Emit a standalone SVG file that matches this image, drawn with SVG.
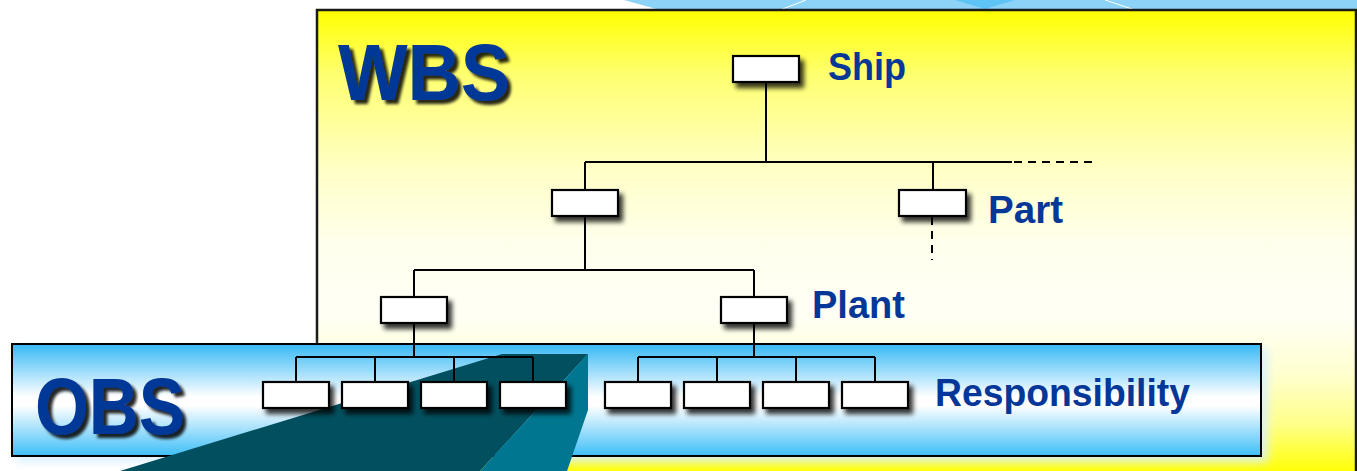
<svg xmlns="http://www.w3.org/2000/svg" width="1357" height="471" viewBox="0 0 1357 471">
  <defs>
    <linearGradient id="yellowGrad" gradientUnits="userSpaceOnUse" x1="0" y1="10" x2="0" y2="471">
      <stop offset="0" stop-color="#FFFF00"/>
      <stop offset="0.14" stop-color="#FFFF70"/>
      <stop offset="0.34" stop-color="#FFFFC4"/>
      <stop offset="0.5" stop-color="#FFFFEC"/>
      <stop offset="0.66" stop-color="#FFFFF6"/>
      <stop offset="0.79" stop-color="#FFFFD0"/>
      <stop offset="0.9" stop-color="#FFFF88"/>
      <stop offset="1" stop-color="#FFFF08"/>
    </linearGradient>
    <linearGradient id="blueGrad" x1="0" y1="0" x2="0" y2="1">
      <stop offset="0" stop-color="#36B8F6"/>
      <stop offset="0.47" stop-color="#FFFFFF"/>
      <stop offset="0.55" stop-color="#FFFFFF"/>
      <stop offset="1" stop-color="#3EBEF8"/>
    </linearGradient>
    <filter id="nodeShadow" x="-30%" y="-40%" width="180%" height="220%">
      <feGaussianBlur in="SourceAlpha" stdDeviation="2.5"/>
      <feOffset dx="4" dy="5" result="b"/>
      <feComponentTransfer><feFuncA type="linear" slope="0.8"/></feComponentTransfer>
      <feMerge><feMergeNode/><feMergeNode in="SourceGraphic"/></feMerge>
    </filter>
    <filter id="textShadow" x="-10%" y="-10%" width="130%" height="140%">
      <feGaussianBlur in="SourceAlpha" stdDeviation="1.5"/>
      <feOffset dx="4" dy="4"/>
      <feComponentTransfer><feFuncA type="linear" slope="0.85"/></feComponentTransfer>
      <feMerge><feMergeNode/><feMergeNode in="SourceGraphic"/></feMerge>
    </filter>
    <filter id="glow" x="-5%" y="-20%" width="110%" height="140%">
      <feGaussianBlur stdDeviation="5"/>
    </filter>
    <style>
      .node { fill: #FFFFFF; stroke: #000000; stroke-width: 2.2; }
      .line { stroke: #000000; stroke-width: 2; fill: none; }
      .dash { stroke: #000000; stroke-width: 2; fill: none; stroke-dasharray: 8 6; }
      .big { font-family: "Liberation Sans", Arial, sans-serif; font-weight: bold; font-size: 80px; fill: #053798; }
      .lbl { font-family: "Liberation Sans", Arial, sans-serif; font-weight: bold; font-size: 38px; fill: #053798; }
    </style>
  </defs>

  <g id="background">
    <polygon points="624,0 1357,0 1357,10 660,10" fill="#8DD3F8"/>
    <polygon points="955,0 1015,0 985,9" fill="#5EC4F6"/>
    <line x1="780" y1="10" x2="806" y2="0" stroke="#FFFFFF" stroke-width="1"/>
    <line x1="1105" y1="0" x2="1135" y2="10" stroke="#FFFFFF" stroke-width="1"/>
  </g>

  <g id="wbs-area">
    <rect x="317" y="10" width="1039" height="480" fill="url(#yellowGrad)" stroke="#1a1a1a" stroke-width="2.5"/>
  </g>

  <g id="obs-area">
    <rect x="16" y="348" width="1252" height="114" fill="#D8F0FF" opacity="0.9" filter="url(#glow)"/>
    <rect x="12" y="344" width="1249" height="112" fill="url(#blueGrad)" stroke="#000000" stroke-width="2"/>
  </g>

  <g id="spotlight">
    <polygon points="502,354 588,354 480,471 120,471" fill="#02505F"/>
    <polygon points="588,354 588,410 567,471 480,471" fill="#007690"/>
  </g>

  <g id="titles">
    <text class="big" x="338" y="100" textLength="172" lengthAdjust="spacingAndGlyphs" filter="url(#textShadow)">WBS</text>
    <text class="big" x="35" y="434" textLength="150" lengthAdjust="spacingAndGlyphs" filter="url(#textShadow)">OBS</text>
  </g>

  <g id="connectors">
    <line class="line" x1="766" y1="82" x2="766" y2="162"/>
    <line class="line" x1="585" y1="162" x2="1012" y2="162"/>
    <line class="dash" x1="1014" y1="162" x2="1092" y2="162"/>
    <line class="line" x1="585" y1="162" x2="585" y2="190"/>
    <line class="line" x1="933" y1="162" x2="933" y2="189"/>
    <line class="dash" x1="932" y1="217" x2="932" y2="260"/>
    <line class="line" x1="585" y1="216" x2="585" y2="270"/>
    <line class="line" x1="414" y1="270" x2="754" y2="270"/>
    <line class="line" x1="414" y1="270" x2="414" y2="297"/>
    <line class="line" x1="754" y1="270" x2="754" y2="297"/>
    <line class="line" x1="414" y1="323" x2="414" y2="357"/>
    <line class="line" x1="754" y1="323" x2="754" y2="357"/>
    <line class="line" x1="296" y1="357" x2="533" y2="357"/>
    <line class="line" x1="296" y1="357" x2="296" y2="382"/>
    <line class="line" x1="375" y1="357" x2="375" y2="382"/>
    <line class="line" x1="454" y1="357" x2="454" y2="382"/>
    <line class="line" x1="533" y1="357" x2="533" y2="382"/>
    <line class="line" x1="638" y1="357" x2="875" y2="357"/>
    <line class="line" x1="638" y1="357" x2="638" y2="382"/>
    <line class="line" x1="717" y1="357" x2="717" y2="382"/>
    <line class="line" x1="796" y1="357" x2="796" y2="382"/>
    <line class="line" x1="875" y1="357" x2="875" y2="382"/>
  </g>

  <g id="node-ship"><rect class="node" x="733" y="56" width="66" height="26" filter="url(#nodeShadow)"/></g>
  <g id="node-l2-left"><rect class="node" x="552" y="190" width="66" height="26" filter="url(#nodeShadow)"/></g>
  <g id="node-part"><rect class="node" x="899" y="190" width="67" height="26" filter="url(#nodeShadow)"/></g>
  <g id="node-l3-left"><rect class="node" x="381" y="297" width="66" height="26" filter="url(#nodeShadow)"/></g>
  <g id="node-plant"><rect class="node" x="721" y="297" width="66" height="26" filter="url(#nodeShadow)"/></g>
  <g id="node-r1"><rect class="node" x="263" y="382" width="66" height="26" filter="url(#nodeShadow)"/></g>
  <g id="node-r2"><rect class="node" x="342" y="382" width="66" height="26" filter="url(#nodeShadow)"/></g>
  <g id="node-r3"><rect class="node" x="421" y="382" width="66" height="26" filter="url(#nodeShadow)"/></g>
  <g id="node-r4"><rect class="node" x="500" y="382" width="66" height="26" filter="url(#nodeShadow)"/></g>
  <g id="node-r5"><rect class="node" x="605" y="382" width="66" height="26" filter="url(#nodeShadow)"/></g>
  <g id="node-r6"><rect class="node" x="684" y="382" width="66" height="26" filter="url(#nodeShadow)"/></g>
  <g id="node-r7"><rect class="node" x="763" y="382" width="66" height="26" filter="url(#nodeShadow)"/></g>
  <g id="node-r8"><rect class="node" x="842" y="382" width="66" height="26" filter="url(#nodeShadow)"/></g>

  <g id="labels">
    <text class="lbl" x="828" y="80" textLength="78" lengthAdjust="spacingAndGlyphs">Ship</text>
    <text class="lbl" x="988" y="223" textLength="75" lengthAdjust="spacingAndGlyphs">Part</text>
    <text class="lbl" x="812" y="318" textLength="93" lengthAdjust="spacingAndGlyphs">Plant</text>
    <text class="lbl" x="935" y="406" font-size="37" textLength="255" lengthAdjust="spacingAndGlyphs">Responsibility</text>
  </g>
</svg>
